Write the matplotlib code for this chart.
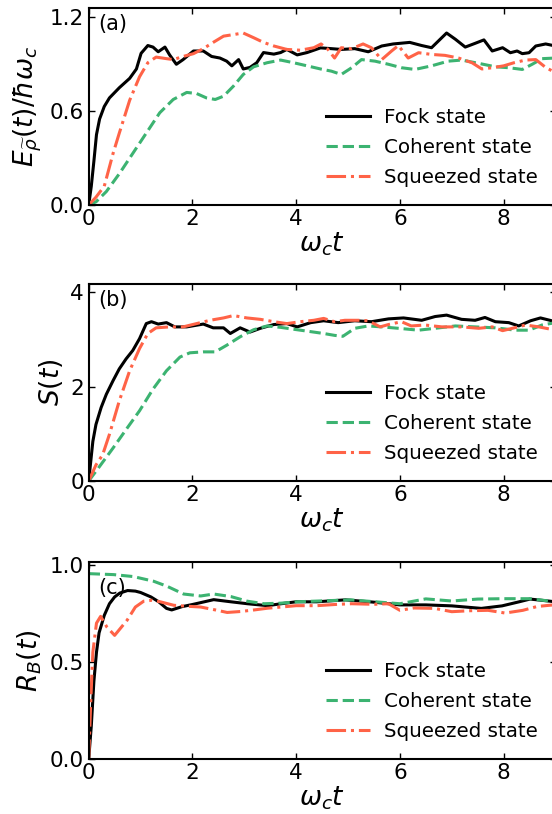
import matplotlib
matplotlib.use("Agg")
import matplotlib.pyplot as plt

# ---------------- data ----------------
labels = ["Fock state", "Coherent state", "Squeezed state"]
colors = ["black", "#3cb371", "#ff6347"]
styles = ["-", "--", "-."]
xticks = [0, 2, 4, 6, 8]

# panel (a)  E(t)/hbar w_c
t_a_fock = [0, 0.05, 0.1, 0.15, 0.21, 0.3, 0.4, 0.59, 0.79, 0.92, 1.01, 1.14, 1.24, 1.34, 1.47, 1.56,
            1.69, 1.82, 2.02, 2.21, 2.37, 2.53, 2.66, 2.76, 2.89, 2.98, 3.11, 3.24, 3.37, 3.57, 3.7, 3.82,
            4.02, 4.21, 4.47, 4.68, 4.87, 5.13, 5.39, 5.65, 5.87, 6.19, 6.42, 6.61, 6.9, 7.07, 7.26, 7.45,
            7.62, 7.78, 7.98, 8.13, 8.26, 8.36, 8.49, 8.62, 8.81, 9.0]
E_fock = [0, 0.12, 0.28, 0.45, 0.55, 0.63, 0.685, 0.75, 0.81, 0.87, 0.97, 1.02, 1.01, 0.98, 1.01, 0.96,
          0.90, 0.93, 0.985, 0.985, 0.95, 0.94, 0.92, 0.89, 0.93, 0.87, 0.88, 0.91, 0.975, 0.965, 0.975, 0.995,
          0.96, 0.975, 1.005, 1.0, 0.995, 1.0, 0.98, 1.017, 1.03, 1.04, 1.02, 1.006, 1.1, 1.06, 1.01, 1.034,
          1.056, 0.985, 1.006, 0.974, 0.985, 0.968, 0.974, 1.017, 1.03, 1.017]
t_a_coh = [0, 0.14, 0.34, 0.59, 0.85, 1.11, 1.37, 1.63, 1.89, 2.08, 2.27, 2.44, 2.6, 2.79, 2.98, 3.18,
           3.44, 3.7, 3.95, 4.21, 4.47, 4.68, 4.87, 5.07, 5.26, 5.52, 5.78, 6.03, 6.29, 6.61, 6.93, 7.19,
           7.52, 7.84, 8.1, 8.36, 8.55, 8.74, 9.0]
E_coh = [0, 0.02, 0.086, 0.2, 0.33, 0.46, 0.59, 0.675, 0.72, 0.713, 0.685, 0.675, 0.696, 0.76, 0.835, 0.884,
         0.91, 0.927, 0.91, 0.89, 0.87, 0.856, 0.835, 0.878, 0.93, 0.92, 0.9, 0.878, 0.867, 0.89, 0.92, 0.927,
         0.906, 0.884, 0.878, 0.867, 0.9, 0.936, 0.94]
t_a_sq = [0, 0.14, 0.3, 0.47, 0.59, 0.79, 0.98, 1.14, 1.3, 1.5, 1.63, 1.82, 2.02, 2.21, 2.4, 2.6, 2.79,
          2.98, 3.18, 3.37, 3.57, 3.82, 4.08, 4.34, 4.48, 4.61, 4.74, 4.87, 5.07, 5.29, 5.45, 5.65, 5.84,
          5.97, 6.16, 6.36, 6.61, 6.87, 7.13, 7.39, 7.58, 7.78, 8.0, 8.2, 8.42, 8.62, 8.81, 9.0]
E_sq = [0, 0.05, 0.12, 0.33, 0.46, 0.67, 0.82, 0.91, 0.946, 0.936, 0.93, 0.95, 0.968, 1.0, 1.04, 1.08, 1.09,
        1.10, 1.07, 1.04, 1.017, 0.995, 0.99, 1.006, 1.03, 0.996, 0.94, 1.006, 1.0, 1.03, 1.006, 0.93, 0.985,
        1.02, 0.94, 0.974, 0.963, 0.957, 0.94, 0.91, 0.87, 0.878, 0.89, 0.91, 0.927, 0.93, 0.88, 0.846]

# panel (b)  S(t)
t_b_fock = [0, 0.08, 0.14, 0.24, 0.34, 0.47, 0.59, 0.72, 0.85, 0.98, 1.11, 1.21, 1.34, 1.5, 1.66, 1.89,
            2.21, 2.4, 2.6, 2.73, 2.92, 3.11, 3.31, 3.57, 3.82, 4.02, 4.28, 4.53, 4.81, 5.13, 5.45, 5.78,
            6.07, 6.42, 6.68, 6.9, 7.19, 7.45, 7.64, 7.84, 8.1, 8.29, 8.52, 8.71, 9.0]
S_fock = [0, 0.84, 1.2, 1.56, 1.84, 2.13, 2.38, 2.59, 2.77, 3.02, 3.34, 3.38, 3.33, 3.36, 3.27, 3.27,
          3.33, 3.25, 3.25, 3.13, 3.25, 3.16, 3.24, 3.32, 3.34, 3.27, 3.36, 3.4, 3.36, 3.4, 3.38, 3.44,
          3.46, 3.41, 3.49, 3.52, 3.43, 3.41, 3.47, 3.38, 3.36, 3.29, 3.4, 3.46, 3.38]
t_b_coh = [0, 0.21, 0.47, 0.72, 0.98, 1.24, 1.5, 1.76, 1.95, 2.21, 2.44, 2.66, 2.92, 3.18, 3.44, 3.7,
           3.95, 4.21, 4.53, 4.74, 4.9, 5.13, 5.39, 5.65, 5.97, 6.36, 6.68, 7.07, 7.45, 7.84, 8.23, 8.49,
           8.74, 9.0]
S_coh = [0, 0.31, 0.7, 1.09, 1.49, 1.95, 2.34, 2.63, 2.72, 2.74, 2.74, 2.88, 3.06, 3.21, 3.29, 3.26,
         3.22, 3.18, 3.13, 3.09, 3.07, 3.24, 3.29, 3.27, 3.24, 3.2, 3.24, 3.29, 3.27, 3.25, 3.2, 3.2,
         3.31, 3.36]
t_b_sq = [0, 0.14, 0.27, 0.4, 0.59, 0.79, 0.98, 1.14, 1.3, 1.56, 1.82, 2.08, 2.34, 2.6, 2.79, 3.05,
          3.31, 3.57, 3.82, 4.08, 4.34, 4.53, 4.74, 4.94, 5.2, 5.39, 5.62, 5.78, 6.03, 6.22, 6.48, 6.81,
          7.19, 7.52, 7.78, 7.98, 8.17, 8.42, 8.68, 9.0]
S_sq = [0, 0.34, 0.56, 0.99, 1.7, 2.34, 2.81, 3.13, 3.25, 3.27, 3.27, 3.34, 3.41, 3.46, 3.51, 3.46,
        3.43, 3.38, 3.34, 3.38, 3.41, 3.45, 3.38, 3.41, 3.41, 3.4, 3.27, 3.32, 3.38, 3.29, 3.31, 3.27,
        3.27, 3.24, 3.27, 3.19, 3.24, 3.31, 3.27, 3.2]

# panel (c)  R_B(t)
t_c_fock = [0, 0.05, 0.1, 0.15, 0.2, 0.3, 0.4, 0.5, 0.6, 0.75, 0.9, 1.0, 1.2, 1.35, 1.5, 1.6, 1.8, 2.0,
            2.41, 2.74, 3.06, 3.45, 3.71, 4.0, 4.4, 4.95, 5.5, 6.0, 6.5, 7.0, 7.57, 7.97, 8.3, 8.51, 9.0]
R_fock = [0, 0.17, 0.4, 0.55, 0.65, 0.74, 0.8, 0.835, 0.855, 0.868, 0.865, 0.858, 0.835, 0.81, 0.776,
          0.768, 0.785, 0.796, 0.821, 0.81, 0.8, 0.79, 0.8, 0.81, 0.81, 0.82, 0.808, 0.794, 0.794, 0.789,
          0.776, 0.789, 0.81, 0.824, 0.81]
t_c_coh = [0, 0.48, 0.86, 1.25, 1.51, 1.83, 2.16, 2.41, 2.74, 3.06, 3.38, 3.71, 4.02, 5.05, 6.0, 6.5,
           7.0, 7.5, 8.0, 8.5, 9.0]
R_coh = [0.955, 0.95, 0.94, 0.916, 0.89, 0.85, 0.84, 0.85, 0.837, 0.813, 0.8, 0.803, 0.81, 0.82, 0.80,
         0.825, 0.814, 0.824, 0.826, 0.826, 0.81]
t_c_sq = [0, 0.04, 0.08, 0.15, 0.23, 0.35, 0.5, 0.74, 0.9, 1.06, 1.22, 1.38, 1.64, 1.9, 2.16, 2.48, 2.67,
          2.93, 3.19, 3.45, 3.71, 4.0, 4.4, 4.8, 5.07, 5.5, 5.78, 6.0, 6.27, 6.67, 7.0, 7.35, 7.7, 8.03,
          8.37, 8.65, 9.0]
R_sq = [0, 0.3, 0.55, 0.7, 0.735, 0.68, 0.637, 0.715, 0.783, 0.813, 0.818, 0.81, 0.792, 0.787, 0.783,
        0.766, 0.755, 0.76, 0.768, 0.777, 0.783, 0.79, 0.79, 0.797, 0.8, 0.797, 0.8, 0.766, 0.778, 0.776,
        0.759, 0.764, 0.766, 0.752, 0.766, 0.786, 0.795]

panels = [
    dict(tag="(a)", ylabel=r"$E_{\widetilde{\rho}}(t)/\hbar\omega_c$", ylim=(0, 1.26), yticks=[0.0, 0.6, 1.2],
         yfmt="{:.1f}", series=[(t_a_fock, E_fock), (t_a_coh, E_coh), (t_a_sq, E_sq)], bottom=1 - 205 / 814,
         tagy=0.92),
    dict(tag="(b)", ylabel=r"$S(t)$", ylim=(0, 4.18), yticks=[0, 2, 4], yfmt="{:d}",
         series=[(t_b_fock, S_fock), (t_b_coh, S_coh), (t_b_sq, S_sq)], bottom=1 - 481 / 814, tagy=0.92),
    dict(tag="(c)", ylabel=r"$R_B(t)$", ylim=(0, 1.015), yticks=[0.0, 0.5, 1.0], yfmt="{:.1f}",
         series=[(t_c_fock, R_fock), (t_c_coh, R_coh), (t_c_sq, R_sq)], bottom=1 - 759 / 814, tagy=0.87),
]

fig = plt.figure(figsize=(5.52, 8.14), dpi=100)
left = 88.7 / 552
width = (555.5 - 88.7) / 552
height = 197 / 814

for p in panels:
    ax = fig.add_axes([left, p["bottom"], width, height])
    for (t, v), lab, c, ls in zip(p["series"], labels, colors, styles):
        ax.plot(t, v, ls, color=c, lw=2.2, label=lab)
    ax.set_xlim(0, 9)
    ax.set_ylim(*p["ylim"])
    ax.set_xticks(xticks)
    ax.set_yticks(p["yticks"])
    ax.set_yticklabels([p["yfmt"].format(y) for y in p["yticks"]])
    ax.tick_params(direction="in", top=True, right=True, labelsize=15.5, length=4, width=1)
    ax.tick_params(axis="x", pad=3.0)
    ax.tick_params(axis="y", pad=3.5)
    for s in ax.spines.values():
        s.set_linewidth(1.5)
    ax.set_xlabel(r"$\omega_c t$", fontsize=19, labelpad=1)
    ax.set_ylabel(p["ylabel"], fontsize=19)
    ax.text(0.02, p["tagy"], p["tag"], transform=ax.transAxes, fontsize=15, va="center", ha="left")
    ax.legend(loc="center left", bbox_to_anchor=(0.509, 0.29), frameon=False, fontsize=14.3,
              borderpad=0, borderaxespad=0, handlelength=2.2, handletextpad=0.7, labelspacing=0.55)

fig.savefig("out.png", dpi=100)
